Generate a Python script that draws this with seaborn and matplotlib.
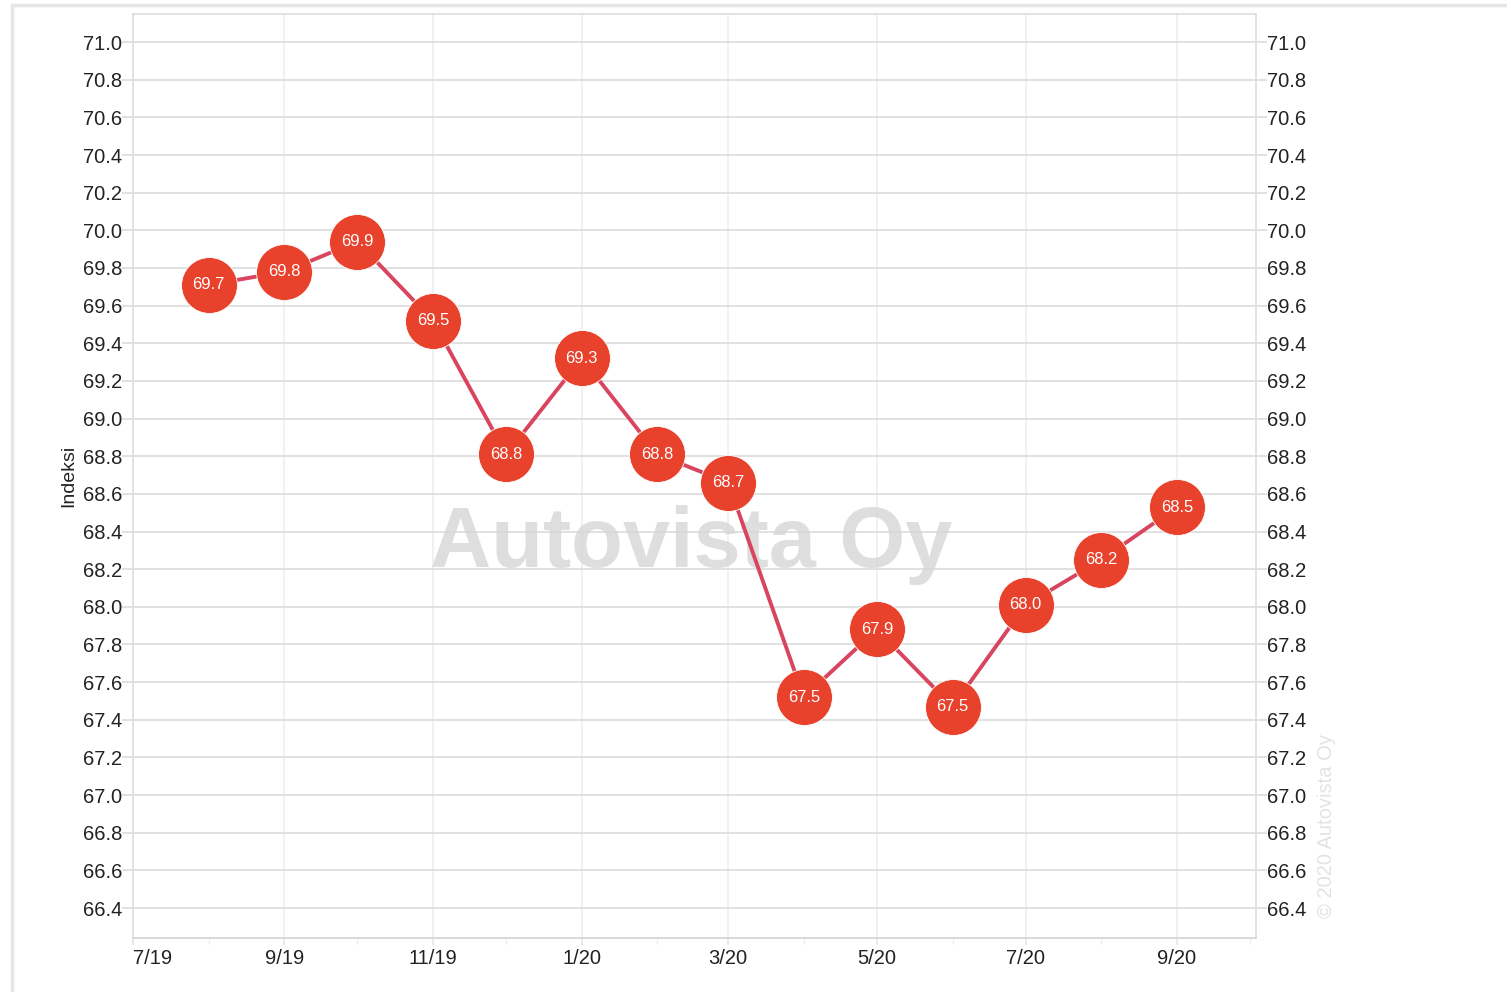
import matplotlib
matplotlib.use("Agg")
import matplotlib.pyplot as plt
import matplotlib.dates as mdates
import numpy as np
import pandas as pd
import seaborn as sns

# monthly index values
months = ["2019-08", "2019-09", "2019-10", "2019-11", "2019-12", "2020-01", "2020-02",
          "2020-03", "2020-04", "2020-05", "2020-06", "2020-07", "2020-08", "2020-09"]
values = [69.71, 69.78, 69.94, 69.52, 68.81, 69.32, 68.81,
          68.66, 67.52, 67.88, 67.47, 68.01, 68.25, 68.53]
labels = ["69.7", "69.8", "69.9", "69.5", "68.8", "69.3", "68.8",
          "68.7", "67.5", "67.9", "67.5", "68.0", "68.2", "68.5"]

df = pd.DataFrame({"kk": pd.to_datetime(months), "indeksi": values, "label": labels})

sns.set_theme(style="white")
plt.rcParams['font.family'] = ['Liberation Sans', 'DejaVu Sans']

fig = plt.figure(figsize=(15.07, 9.92), dpi=100)
ax = fig.add_axes([133/1507, 1-938/992, (1256-133)/1507, (938-14)/992])

# outer frame of the widget
fig.add_artist(plt.Line2D([12/1507, 12/1507], [0, 1-5/992], transform=fig.transFigure, color="#e6e6e6", lw=2.5))
fig.add_artist(plt.Line2D([12/1507, 1], [1-5/992, 1-5/992], transform=fig.transFigure, color="#e6e6e6", lw=2.5))

sns.lineplot(data=df, x="kk", y="indeksi", ax=ax, color="#d9455f", lw=2.8, zorder=3)
sns.scatterplot(data=df, x="kk", y="indeksi", ax=ax, color="#e8412c", s=1620,
                edgecolor="white", linewidth=0.6, zorder=4, legend=False)
for d, v, t in zip(df["kk"], df["indeksi"], df["label"]):
    ax.text(d, v, t, color="white", fontsize=12, ha="center", va="center", zorder=5)

# watermarks
ax.text(0.497, 0.425, "Autovista Oy", transform=ax.transAxes, fontsize=61, fontweight="bold",
        color="#d6d6d6", alpha=0.8, ha="center", va="center", zorder=2)
fig.text(1326/1507, 1-826/992, "\u00a9 2020 Autovista Oy", rotation=90, fontsize=14.5,
         color="#e3e3e3", ha="center", va="center")

start = pd.Timestamp("2019-07-01")
ax.set_xlim(start, start + pd.Timedelta(days=460.4))
ax.set_ylim(66.241, 71.149)

ax.xaxis.set_major_locator(mdates.MonthLocator(bymonth=[1, 3, 5, 7, 9, 11]))
ax.xaxis.set_minor_locator(mdates.MonthLocator())
ax.xaxis.set_major_formatter(plt.FuncFormatter(
    lambda x, p: "%d/%s" % (mdates.num2date(x).month, mdates.num2date(x).strftime("%y"))))
yt = np.round(np.arange(66.4, 71.01, 0.2), 1)
ax.set_yticks(yt)
ax.set_yticklabels(["%.1f" % y for y in yt])

ax.grid(axis="y", color="#dcdcdc", lw=1.2)
ax.grid(axis="x", color="#efefef", lw=1.2)
ax.set_axisbelow(True)
for s in ax.spines.values():
    s.set_color("#dddddd")
    s.set_linewidth(1.2)
ax.spines["bottom"].set_color("#d2d2d2")

ax.tick_params(axis="y", which="both", left=True, length=8, color="#dddddd", labelsize=14.5,
               labelcolor="#222222", pad=0)
ax.tick_params(axis="x", which="major", bottom=True, length=5, color="#e6e6e6", labelsize=14.5,
               labelcolor="#222222", pad=3)
ax.tick_params(axis="x", which="minor", bottom=True, length=4, color="#eeeeee")
fig.canvas.draw()
xl = ax.get_xticklabels()
xl[0].set_ha("left")

ax.set_xlabel("")
ax.set_ylabel("Indeksi", fontsize=14, color="#222222", labelpad=4)

ax2 = ax.twinx()
ax2.set_ylim(ax.get_ylim())
ax2.set_yticks(yt)
ax2.set_yticklabels(["%.1f" % y for y in yt])
ax2.tick_params(axis="y", right=True, length=8, color="#dddddd", labelsize=14.5,
                labelcolor="#222222", pad=0)
for s in ax2.spines.values():
    s.set_visible(False)
ax2.grid(False)

fig.savefig("out.png", dpi=100)
